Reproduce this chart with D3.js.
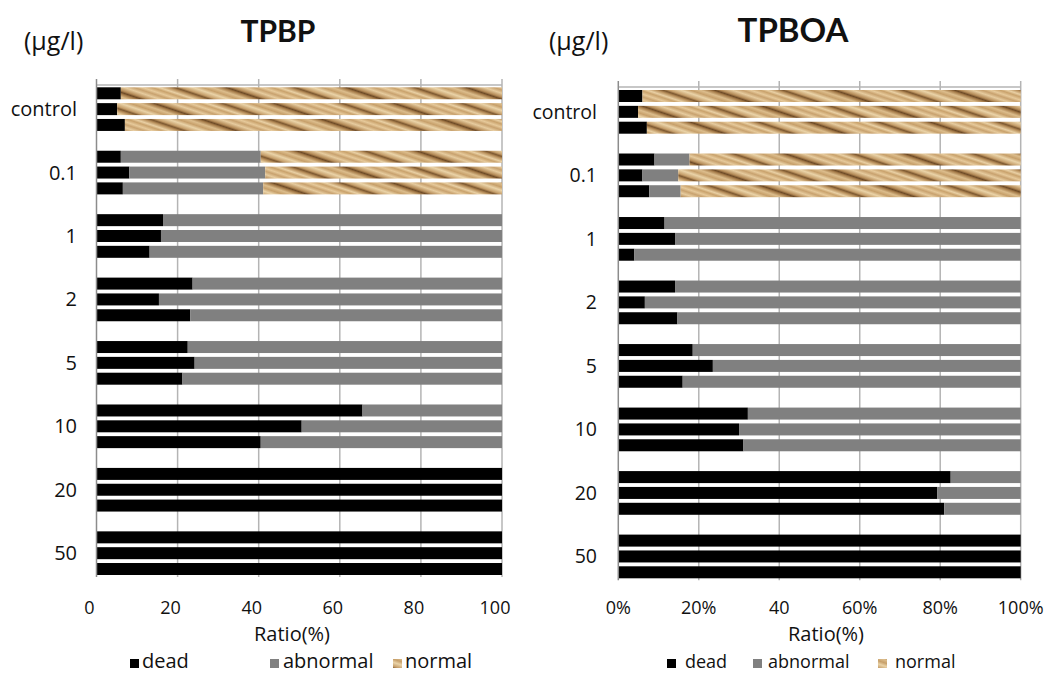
<!DOCTYPE html>
<html lang="en">
<head>
<meta charset="utf-8">
<script src="https://d3js.org/d3.v7.min.js"></script>
<style>
  body { margin: 0; background: #fff; }
  text { font-family: "Open Sans", Lato, sans-serif; fill: #111; }
</style>
</head>
<body>
<svg id="chart" width="1050" height="674"></svg>
<script>
// concentrations (rows) and the three replicate bars for each
const categories = ["control", "0.1", "1", "2", "5", "10", "20", "50"];
const replicates = [0, 1, 2];
const keys = ["dead", "abnormal", "normal"];

// TPBP, % per replicate
const tpbpDead     = [[6.0, 5.1, 7.0], [6.0, 8.1, 6.5], [16.4, 15.9, 13.1], [23.7, 15.4, 23.1], [22.5, 24.2, 21.2], [65.6, 50.6, 40.5], [100, 100, 100], [100, 100, 100]];
const tpbpAbnormal = [[0, 0, 0], [34.5, 33.5, 34.6], [83.6, 84.1, 86.9], [76.3, 84.6, 76.9], [77.5, 75.8, 78.8], [34.4, 49.4, 59.5], [0, 0, 0], [0, 0, 0]];
const tpbpNormal   = [[94.0, 94.9, 93.0], [59.5, 58.4, 58.9], [0, 0, 0], [0, 0, 0], [0, 0, 0], [0, 0, 0], [0, 0, 0], [0, 0, 0]];

// TPBOA, % per replicate
const tpboaDead     = [[6.0, 4.9, 7.1], [9.0, 6.0, 7.7], [11.5, 14.1, 4.0], [14.1, 6.6, 14.7], [18.5, 23.5, 16.0], [32.2, 30.0, 31.1], [82.6, 79.3, 81.0], [100, 100, 100]];
const tpboaAbnormal = [[0, 0, 0], [8.7, 8.9, 7.8], [88.5, 85.9, 96.0], [85.9, 93.4, 85.3], [81.5, 76.5, 84.0], [67.8, 70.0, 68.9], [17.4, 20.7, 19.0], [0, 0, 0]];
const tpboaNormal   = [[94.0, 95.1, 92.9], [82.3, 85.1, 84.5], [0, 0, 0], [0, 0, 0], [0, 0, 0], [0, 0, 0], [0, 0, 0], [0, 0, 0]];

const tickValues = [0, 20, 40, 60, 80, 100];
const tpbpTickLabels = ["0", "20", "40", "60", "80", "100"];
const tpboaTickLabels = ["0%", "20%", "40", "60%", "80%", "100%"];

const svg = d3.select("#chart");

// wheat-like texture used for "normal"
const defs = svg.append("defs");
const wood = defs.append("linearGradient")
    .attr("id", "wood")
    .attr("gradientUnits", "userSpaceOnUse")
    .attr("x1", 0).attr("y1", 0).attr("x2", 12).attr("y2", -36)
    .attr("spreadMethod", "repeat");
[[0, "#e6c99a"], [0.08, "#c9a26c"], [0.14, "#e9d0a4"], [0.22, "#b78e5a"], [0.27, "#7d5830"],
 [0.32, "#c59e6a"], [0.42, "#ead3a8"], [0.5, "#c7a06b"], [0.58, "#dcbd8c"], [0.66, "#a47a48"],
 [0.7, "#6e4b27"], [0.75, "#b48b58"], [0.85, "#e6cb9e"], [0.93, "#c8a26f"], [1, "#e6c99a"]]
  .forEach(s => wood.append("stop").attr("offset", s[0]).attr("stop-color", s[1]));

const colors = { dead: "#000000", abnormal: "#808080", normal: "url(#wood)" };

function drawPanel(cfg) {
  const g = svg.append("g");
  const x = d3.scaleLinear().domain([0, 100]).range([cfg.x0, cfg.x1]);
  const y = d3.scaleBand().domain(categories).range([cfg.bandTop, cfg.bottom]).paddingInner(0.312).paddingOuter(0);
  const yr = d3.scaleBand().domain(replicates).range([0, y.bandwidth()]).paddingInner(0.243);

  // grid
  g.selectAll(".grid").data(tickValues.slice(1)).enter().append("line")
    .attr("x1", d => x(d)).attr("x2", d => x(d))
    .attr("y1", cfg.top - 6).attr("y2", cfg.bottom + 2)
    .attr("stroke", "#b4b4b4").attr("stroke-width", 1.5);
  g.append("line")
    .attr("x1", x(0)).attr("x2", x(100)).attr("y1", cfg.top).attr("y2", cfg.top)
    .attr("stroke", "#b4b4b4").attr("stroke-width", 1.5);

  const rows = [];
  categories.forEach((c, i) => replicates.forEach(r => rows.push({
    cat: c, rep: r, dead: cfg.dead[i][r], abnormal: cfg.abnormal[i][r], normal: cfg.normal[i][r]
  })));
  const series = d3.stack().keys(keys)(rows);

  g.selectAll(".layer").data(series).enter().append("g")
    .attr("fill", d => colors[d.key])
    .selectAll("rect").data(d => d.filter(p => p[1] > p[0])).enter().append("rect")
    .attr("x", d => x(d[0]))
    .attr("width", d => x(d[1]) - x(d[0]))
    .attr("y", d => y(d.data.cat) + yr(d.data.rep))
    .attr("height", yr.bandwidth());

  // left axis line
  g.append("line")
    .attr("x1", x(0)).attr("x2", x(0)).attr("y1", cfg.top - 6).attr("y2", cfg.bottom + 2)
    .attr("stroke", "#8c8c8c").attr("stroke-width", 1.5);

  // category labels
  g.selectAll(".cat").data(categories).enter().append("text")
    .attr("x", cfg.labelX).attr("y", d => y(d) + y.bandwidth() / 2)
    .attr("dy", "0.35em").attr("text-anchor", "end")
    .style("font-size", cfg.labelSize + "px").text(d => d);

  // tick labels
  g.selectAll(".tick").data(tickValues).enter().append("text")
    .attr("x", d => x(d) + cfg.tickDx)
    .attr("y", 613.5).attr("text-anchor", "middle")
    .style("font-size", "18px").text((d, i) => cfg.tickLabels[i]);

  g.append("text").attr("x", cfg.axisTitleX).attr("y", 640.5).attr("text-anchor", "middle")
    .style("font-size", "20px").text("Ratio(%)");

  g.append("text").attr("x", cfg.titleX).attr("y", 42).attr("text-anchor", "middle")
    .style("font-family", "Lato, sans-serif")
    .style("font-size", cfg.titleSize + "px").style("font-weight", "bold").text(cfg.title);

  g.append("text").attr("x", cfg.unitX).attr("y", 50)
    .style("font-size", "25px").text("(μg/l)");

  // legend
  const lg = g.append("g").attr("transform", "translate(0," + cfg.legendY + ")");
  cfg.legend.forEach((p, i) => {
    lg.append("rect").attr("x", p[0]).attr("y", -9).attr("width", 9).attr("height", 9)
      .attr("fill", colors[keys[i]]);
    lg.append("text").attr("x", p[1]).attr("y", 0)
      .style("font-size", cfg.legendSize + "px").text(keys[i]);
  });
}

drawPanel({
  title: "TPBP", titleX: 278, titleSize: 30, unitX: 24, labelSize: 20,
  x0: 96.5, x1: 502, top: 85, bandTop: 87.3, bottom: 575,
  labelX: 77, tickDx: -7, tickLabels: tpbpTickLabels, axisTitleX: 292,
  dead: tpbpDead, abnormal: tpbpAbnormal, normal: tpbpNormal,
  legendY: 668, legendSize: 20, legend: [[130, 142], [270, 283], [393, 405]]
});

drawPanel({
  title: "TPBOA", titleX: 793, titleSize: 33, unitX: 549, labelSize: 19.5,
  x0: 618.3, x1: 1020.7, top: 87, bandTop: 90, bottom: 578.3,
  labelX: 597, tickDx: 0, tickLabels: tpboaTickLabels, axisTitleX: 826,
  dead: tpboaDead, abnormal: tpboaAbnormal, normal: tpboaNormal,
  legendY: 668, legendSize: 18, legend: [[667, 685], [753, 768], [878, 895]]
});
</script>
</body>
</html>
